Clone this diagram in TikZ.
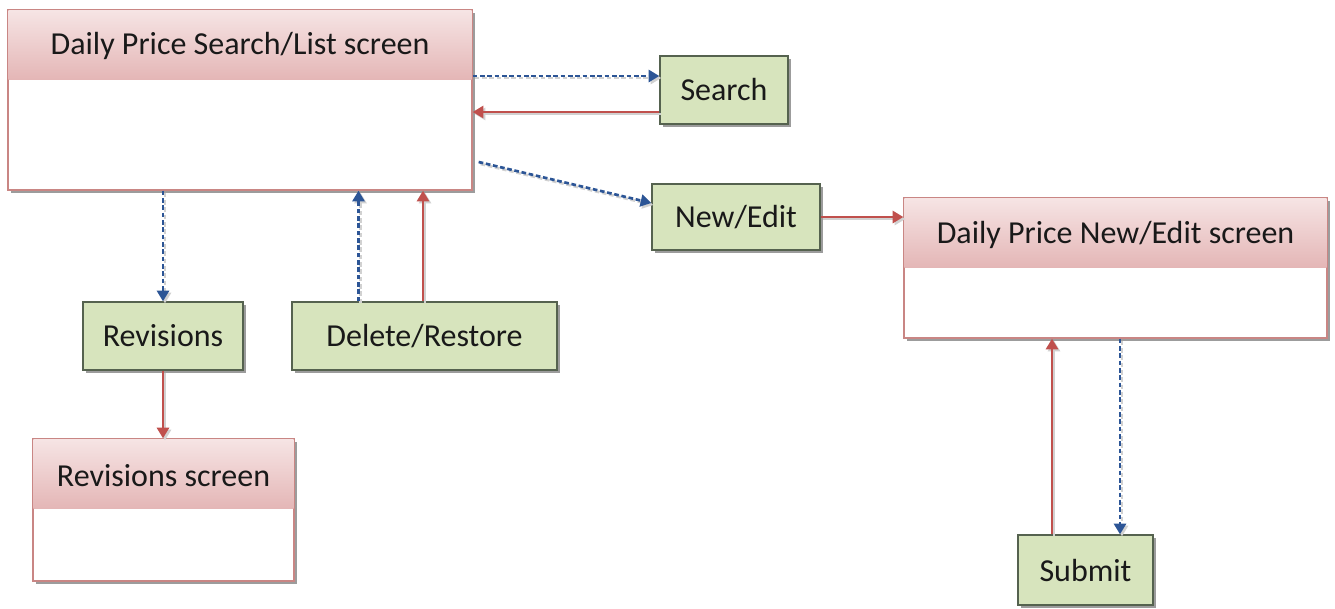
\documentclass[tikz,border=0pt]{standalone}
\usepackage{fontspec}
\setmainfont{Carlito}
\usetikzlibrary{arrows.meta,shadows,calc}
\definecolor{hdrtop}{HTML}{F6E4E4}
\definecolor{hdrbot}{HTML}{E4B6B6}
\definecolor{scrborder}{HTML}{C98684}
\definecolor{grnfill}{HTML}{D7E4BD}
\definecolor{grnborder}{HTML}{55624F}
\definecolor{arrred}{HTML}{C0504D}
\definecolor{arrblue}{HTML}{2C5596}
\begin{document}
\begin{tikzpicture}[x=0.75pt,y=-0.75pt,
  shad/.style={drop shadow={shadow xshift=2.5pt,shadow yshift=-2.5pt,fill=black!55,opacity=.7}},
  screen/.style={draw=scrborder,line width=1pt,fill=white,shad,inner sep=0pt},
  actbox/.style={draw=grnborder,line width=1pt,fill=grnfill,shad,inner sep=0pt,font=\fontsize{24pt}{28pt}\selectfont,text=black!90},
  hdr/.style={font=\fontsize{24pt}{28pt}\selectfont,text=black!90,inner sep=0pt},
  redarr/.style={draw=arrred,line width=2pt,-{Triangle[length=8pt,width=9pt]},
    preaction={draw=black!18,line width=2pt,transform canvas={shift={(1.5pt,-1.5pt)}}}},
  bluearr/.style={draw=arrblue,line width=2pt,dash pattern=on 3.5pt off 2pt,-{Triangle[length=8pt,width=9pt]},
    preaction={draw=black!18,line width=2pt,dash pattern=on 3.5pt off 2pt,transform canvas={shift={(1.5pt,-1.5pt)}}}}
]
\useasboundingbox[fill=white] (0,0) rectangle (1335,608);

% screens
\node[screen,minimum width=348pt,minimum height=135pt] (main) at (240,100) {};
\node[screen,minimum width=317.25pt,minimum height=105pt] (nes) at (1115.5,268) {};
\node[screen,minimum width=195.75pt,minimum height=106.5pt] (revs) at (163.5,510) {};
\foreach \n in {main,nes,revs}{
  \shade[top color=hdrtop,bottom color=hdrbot] ([shift={(0.7pt,-0.7pt)}]\n.north west) rectangle ($(\n.north east)+(-1,70)$);
  \draw[scrborder,line width=1pt] (\n.north west) rectangle (\n.south east);
}
\node[hdr] (mainlbl) at (240,46) {Daily Price Search/List screen};
\node[hdr] (neslbl) at (1115.5,235) {Daily Price New/Edit screen};
\node[hdr] (revslbl) at (163.5,476) {Revisions screen};

% action boxes
\node[actbox,minimum width=96pt,minimum height=51pt] (search) at (724,90) {Search};
\node[actbox,minimum width=126pt,minimum height=49.5pt] (newedit) at (736,217) {New/Edit};
\node[actbox,minimum width=101.25pt,minimum height=52.5pt] (submit) at (1085.5,570) {Submit};
\node[actbox,minimum width=120pt,minimum height=51pt] (rev) at (163,336) {Revisions};
\node[actbox,minimum width=198.75pt,minimum height=51pt] (delres) at (424.5,336) {Delete/Restore};

% connectors
\draw[bluearr] ($(main.east)+(0,-24)$) -- ($(search.west)+(0,-14)$);
\draw[redarr] ($(search.west)+(0,22)$) -- ($(main.east)+(0,12)$);
\draw[bluearr] ($(main.east)+(6,62)$) -- ($(newedit.west)+(0,-14)$);
\draw[redarr] (newedit.east) -- (nes.west |- newedit.east);
\draw[bluearr] (main.south -| rev.north) -- (rev.north);
\draw[bluearr] ($(delres.north)+(-66,0)$) -- (main.south -| {$(delres.north)+(-66,0)$});
\draw[redarr] ($(delres.north)+(-1.5,0)$) -- (main.south -| {$(delres.north)+(-1.5,0)$});
\draw[redarr] (rev.south) -- (revs.north -| rev.south);
\draw[redarr] ($(submit.north)+(-33.5,0)$) -- (nes.south -| {$(submit.north)+(-33.5,0)$});
\draw[bluearr] (nes.south -| {$(submit.north)+(34.5,0)$}) -- ($(submit.north)+(34.5,0)$);
\end{tikzpicture}
\end{document}
